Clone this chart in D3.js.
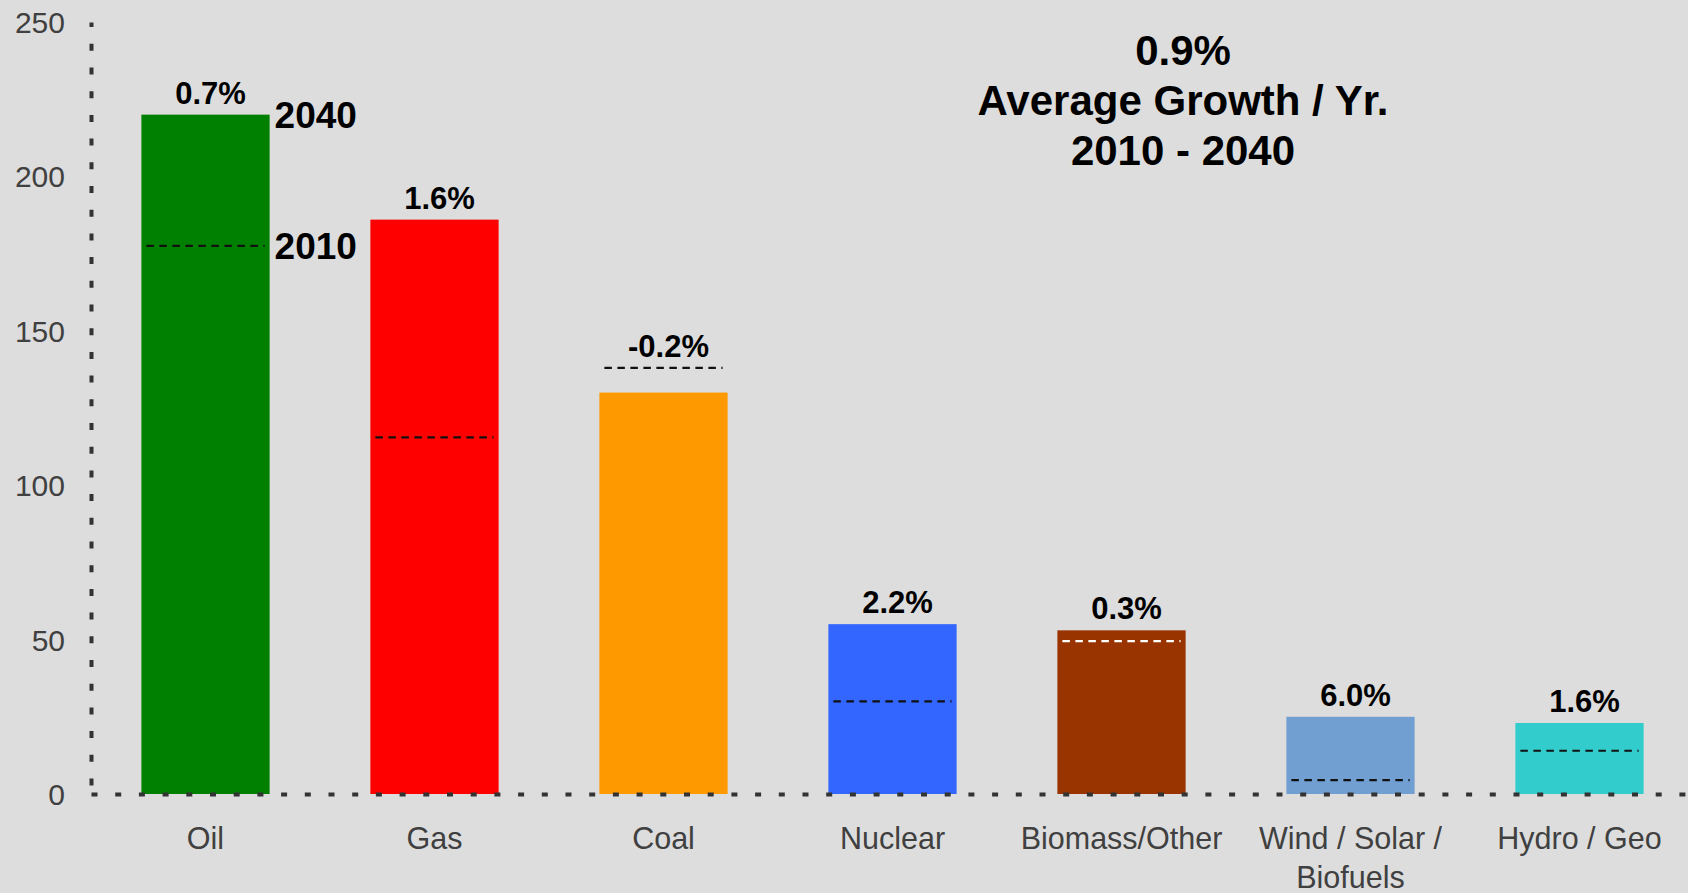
<!DOCTYPE html>
<html><head><meta charset="utf-8">
<script src="https://cdn.jsdelivr.net/npm/d3@7"></script>
<style>
html,body{margin:0;padding:0;background:#dddddd;}
svg{display:block;font-family:"Liberation Sans",Arial,sans-serif;}
</style>
</head><body>
<svg id="chart" width="1688" height="893"></svg>
<script>
const categories = ["Oil","Gas","Coal","Nuclear","Biomass/Other","Wind / Solar / Biofuels","Hydro / Geo"];
const values2040 = [220,186,130,55,53,25,23];
const values2010 = [177.5,115.5,138,30,49.5,4.5,14];
const growthLabels = ["0.7%","1.6%","-0.2%","2.2%","0.3%","6.0%","1.6%"];
const barColors = ["#008000","#ff0000","#ff9900","#3366ff","#993300","#729fd2","#33cccc"];
const dashColors = ["#111111","#111111","#111111","#111111","#ffffff","#111111","#111111"];
const yTicks = [0,50,100,150,200,250];
const titleLines = ["0.9%","Average Growth / Yr.","2010 - 2040"];
const yearLabels = ["2040","2010"];

const svg = d3.select("#chart");
svg.append("rect").attr("width",1688).attr("height",893).attr("fill","#dddddd");

const x = d3.scaleBand().domain(categories).range([91,1694]).paddingInner(0.44).paddingOuter(0.22);
const y = d3.scaleLinear().domain([0,250]).range([794,22]);
const bw = x.bandwidth();

const data = categories.map((c,i)=>({c, v40:values2040[i], v10:values2010[i], g:growthLabels[i], col:barColors[i], dc:dashColors[i]}));

// bars
svg.append("g").selectAll("rect").data(data).join("rect")
  .attr("x",d=>x(d.c)).attr("y",d=>y(d.v40))
  .attr("width",bw).attr("height",d=>y(0)-y(d.v40))
  .attr("fill",d=>d.col);

// 2010 dashed markers
svg.append("g").selectAll("line").data(data).join("line")
  .attr("x1",d=>x(d.c)+5).attr("x2",d=>x(d.c)+bw-5)
  .attr("y1",d=>y(d.v10)).attr("y2",d=>y(d.v10))
  .attr("stroke",d=>d.dc).attr("stroke-width",2.2)
  .attr("stroke-dasharray","7.5,5.5");

// growth labels
svg.append("g").selectAll("text").data(data).join("text")
  .attr("x",d=>x(d.c)+bw/2+5)
  .attr("y",d=>y(Math.max(d.v40,d.v10))-11)
  .attr("text-anchor","middle")
  .attr("font-size",31).attr("font-weight","bold").attr("fill","#000")
  .text(d=>d.g);

// year labels on Oil bar
const oil = data[0];
svg.append("g").selectAll("text").data([oil.v40, oil.v10]).join("text")
  .attr("x",x(oil.c)+bw+5)
  .attr("y",v=>y(v)+13)
  .attr("font-size",37).attr("font-weight","bold").attr("fill","#000")
  .text((v,i)=>yearLabels[i]);

// y axis
const yAxis = svg.append("g").attr("transform","translate(91,0)")
  .call(d3.axisLeft(y).tickValues(yTicks).tickSize(0).tickSizeOuter(0).tickPadding(26));
yAxis.select(".domain").attr("stroke","#333").attr("stroke-width",4)
  .attr("stroke-dasharray","7,16.7").attr("stroke-dashoffset",14.7);
yAxis.selectAll("text").attr("font-size",30).attr("fill","#404040")
  .attr("font-family","'Liberation Sans',Arial,sans-serif").attr("dy","0.35em");

// x axis
const xAxis = svg.append("g").attr("transform","translate(0,794)")
  .call(d3.axisBottom(x).tickSize(0).tickSizeOuter(0));
xAxis.select(".domain").attr("stroke","#333").attr("stroke-width",4)
  .attr("stroke-dasharray","6,17.7");
xAxis.selectAll("text").each(function(d){
  const t = d3.select(this);
  t.text(null).attr("y",null).attr("dy",null)
   .attr("font-size",30.5).attr("fill","#404040")
   .attr("font-family","'Liberation Sans',Arial,sans-serif");
  const words = d.split(" ");
  const lines = [];
  let cur = [];
  const probe = t.append("tspan");
  words.forEach(w=>{
    const test = cur.concat([w]).join(" ");
    probe.text(test);
    if (cur.length && probe.node().getComputedTextLength() > 195) {
      lines.push(cur.join(" "));
      cur = [w];
    } else cur.push(w);
  });
  lines.push(cur.join(" "));
  probe.remove();
  lines.forEach((ln,i)=>{
    t.append("tspan").attr("x",0).attr("y",55+i*39).text(ln);
  });
});

// title
svg.append("g").selectAll("text").data(titleLines).join("text")
  .attr("x",1183).attr("y",(d,i)=>65+i*50)
  .attr("text-anchor","middle").attr("font-size",42).attr("font-weight","bold").attr("fill","#000")
  .text(d=>d);
</script>
</body></html>
